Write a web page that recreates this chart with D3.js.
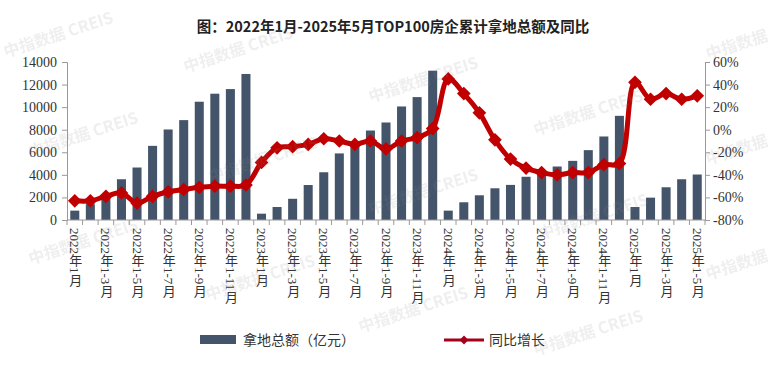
<!DOCTYPE html>
<html>
<head>
<meta charset="utf-8">
<script src="https://cdn.jsdelivr.net/npm/d3@7"></script>
<style>
  body { margin: 0; background: #fff; }
  svg { display: block; }
  .tick-label { font-family: "Liberation Serif", "Noto Sans CJK SC", serif; font-size: 14px; fill: #333; }
  .cat-label { font-family: "Liberation Serif", "Noto Sans CJK SC", serif; font-size: 13px; fill: #333; writing-mode: vertical-rl; }
</style>
</head>
<body>
<script>
const categories = [
  "2022年1月","2022年1-2月","2022年1-3月","2022年1-4月","2022年1-5月","2022年1-6月",
  "2022年1-7月","2022年1-8月","2022年1-9月","2022年1-10月","2022年1-11月","2022年1-12月",
  "2023年1月","2023年1-2月","2023年1-3月","2023年1-4月","2023年1-5月","2023年1-6月",
  "2023年1-7月","2023年1-8月","2023年1-9月","2023年1-10月","2023年1-11月","2023年1-12月",
  "2024年1月","2024年1-2月","2024年1-3月","2024年1-4月","2024年1-5月","2024年1-6月",
  "2024年1-7月","2024年1-8月","2024年1-9月","2024年1-10月","2024年1-11月","2024年1-12月",
  "2025年1月","2025年1-2月","2025年1-3月","2025年1-4月","2025年1-5月"
];
// 拿地总额（亿元）
const amount = [
  830, 1400, 2200, 3610, 4650, 6570, 8020, 8850, 10480, 11190, 11600, 12940,
  560, 1150, 1880, 3100, 4230, 5900, 6850, 7930, 8640, 10060, 10890, 13230,
  830, 1570, 2190, 2810, 3110, 3830, 4350, 4740, 5240, 6190, 7400, 9230,
  1150, 1980, 2900, 3610, 4030
];
// 同比增长（%）
const growth = [
  -63, -63, -59, -56, -65, -59, -55, -53, -51, -50, -50, -49,
  -29, -16, -15, -13, -8, -10, -13, -10, -17, -10, -7, 1,
  45, 32, 15, -9, -26, -34, -38, -40, -38, -38, -31, -30,
  42, 27, 32, 27, 30
];
const leftTicks = [0, 2000, 4000, 6000, 8000, 10000, 12000, 14000];
const rightTicks = [-80, -60, -40, -20, 0, 20, 40, 60];
const title = "图：2022年1月-2025年5月TOP100房企累计拿地总额及同比";

const W = 774, H = 371;
const plotL = 67, plotR = 705, plotT = 62, plotB = 220;
const barColor = "#44546a", lineColor = "#c00000";

const svg = d3.select("body").append("svg").attr("width", W).attr("height", H);

const x = d3.scaleBand().domain(categories).range([plotL, plotR])
  .paddingInner(0.42).paddingOuter(0.21);
const yL = d3.scaleLinear().domain([0, 14000]).range([plotB, plotT]);
const yR = d3.scaleLinear().domain([-80, 60]).range([plotB, plotT]);

// title
svg.append("text").attr("x", 393).attr("y", 32).attr("text-anchor", "middle")
  .style("font-family", "'Noto Sans CJK SC', sans-serif").style("font-weight", "bold")
  .style("font-size", "14.5px").attr("fill", "#222").text(title);

// bars
svg.selectAll("rect.bar").data(amount).enter().append("rect")
  .attr("class", "bar")
  .attr("x", (d, i) => x(categories[i]))
  .attr("y", d => yL(d))
  .attr("width", x.bandwidth())
  .attr("height", d => yL(0) - yL(d))
  .attr("fill", barColor);

// left axis
const axL = svg.append("g").attr("transform", `translate(${plotL},0)`)
  .call(d3.axisLeft(yL).tickValues(leftTicks).tickSize(5).tickPadding(5).tickFormat(d3.format("d")));
axL.select(".domain").attr("stroke", "#999");
axL.selectAll(".tick line").attr("stroke", "#999");
axL.selectAll(".tick text").attr("class", "tick-label").attr("fill", "#333");

// right axis
const axR = svg.append("g").attr("transform", `translate(${plotR},0)`)
  .call(d3.axisRight(yR).tickValues(rightTicks).tickSize(5).tickPadding(3).tickFormat(d => d + "%"));
axR.select(".domain").attr("stroke", "#999");
axR.selectAll(".tick line").attr("stroke", "#999");
axR.selectAll(".tick text").attr("class", "tick-label").attr("fill", "#333");

// bottom axis: line with ticks between categories
svg.append("line").attr("x1", plotL).attr("x2", plotR).attr("y1", plotB).attr("y2", plotB)
  .attr("stroke", "#999");
svg.selectAll("line.xtick").data(d3.range(categories.length + 1)).enter().append("line")
  .attr("class", "xtick")
  .attr("x1", i => plotL + i * x.step()).attr("x2", i => plotL + i * x.step())
  .attr("y1", plotB).attr("y2", plotB + 5).attr("stroke", "#999");

svg.selectAll("text.cat-label").data(categories.filter((d, i) => i % 2 === 0)).enter()
  .append("text").attr("class", "cat-label")
  .attr("x", d => x(d) + x.bandwidth() / 2)
  .attr("y", plotB + 8)
  .text(d => d);

// line
const line = d3.line()
  .x((d, i) => x(categories[i]) + x.bandwidth() / 2)
  .y(d => yR(d))
  .curve(d3.curveCatmullRom.alpha(0.5));
svg.append("path").datum(growth).attr("d", line)
  .attr("fill", "none").attr("stroke", lineColor).attr("stroke-width", 5)
  .attr("stroke-linejoin", "round");

const diamond = d3.symbol().type(d3.symbolDiamond2).size(120);
svg.selectAll("path.mk").data(growth).enter().append("path")
  .attr("class", "mk")
  .attr("d", diamond)
  .attr("transform", (d, i) => `translate(${x(categories[i]) + x.bandwidth() / 2},${yR(d)})`)
  .attr("fill", lineColor);

// legend
const lg = svg.append("g").style("font-family", "'Noto Sans CJK SC', sans-serif").style("font-size", "14px");
lg.append("rect").attr("x", 200).attr("y", 335).attr("width", 36).attr("height", 9).attr("fill", barColor);
lg.append("text").attr("x", 243).attr("y", 345).attr("fill", "#333").text("拿地总额（亿元）");
lg.append("line").attr("x1", 444).attr("x2", 484).attr("y1", 340).attr("y2", 340)
  .attr("stroke", "#a5001c").attr("stroke-width", 3);
lg.append("path").attr("d", d3.symbol().type(d3.symbolDiamond2).size(50))
  .attr("transform", "translate(464,340)").attr("fill", "#a5001c");
lg.append("text").attr("x", 489).attr("y", 345).attr("fill", "#333").text("同比增长");

// watermarks
const marks = [[60, 40], [240, 55], [425, 85], [590, 118],
  [85, 140], [265, 165], [425, 197], [595, 222],
  [85, 247], [262, 283], [415, 315], [590, 338]];
const edgeMarks = [[708, 60], [708, 165], [708, 280]];
const wm = svg.append("g")
  .style("font-family", "'Noto Sans CJK SC', sans-serif").style("font-size", "16px")
  .style("font-weight", "bold").attr("fill", "#888").attr("opacity", 0.14);
wm.selectAll("text.wm").data(marks).enter().append("text").attr("class", "wm")
  .attr("transform", d => `translate(${d[0]},${d[1]}) rotate(-18)`)
  .attr("text-anchor", "middle")
  .text("中指数据 CREIS");
wm.selectAll("text.wme").data(edgeMarks).enter().append("text").attr("class", "wme")
  .attr("transform", d => `translate(${d[0]},${d[1]}) rotate(-18)`)
  .text("中指数据");
</script>
</body>
</html>
